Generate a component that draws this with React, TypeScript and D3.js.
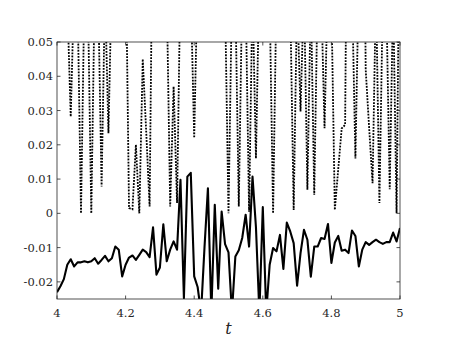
import React, { useEffect, useRef } from "react";
import * as d3 from "d3";

// sample grid, t = 4 ... 5 in steps of 0.01
const tGrid = d3.range(0, 101).map((i) => +(4 + i * 0.01).toFixed(2));

// solid series
const solidVals = [
  -0.023, -0.0213, -0.0192, -0.015, -0.0134, -0.0155, -0.0143, -0.0143, -0.014, -0.0143,
  -0.014, -0.0131, -0.0147, -0.0136, -0.0124, -0.014, -0.0131, -0.0097, -0.0106, -0.0184,
  -0.015, -0.0129, -0.0123, -0.0136, -0.0121, -0.0106, -0.0113, -0.0128, -0.0041, -0.0179,
  -0.0158, -0.0032, -0.014, -0.0106, -0.0082, -0.0106, 0.0098, -0.0248, 0.0107, 0.0118,
  -0.0184, -0.0215, -0.029, -0.01, 0.0073, -0.029, 0.0025, -0.022, 0.0005, -0.009,
  -0.0114, -0.029, -0.0126, -0.0108, -0.0072, -0.0004, -0.0097, 0.0107, -0.004, -0.029,
  0.0018, -0.029, -0.015, -0.0101, -0.0111, -0.0063, -0.0162, -0.0027, -0.0053, -0.0087,
  -0.0211, -0.0116, -0.0048, -0.0077, -0.0185, -0.0097, -0.0097, -0.0072, -0.0075, -0.0031,
  -0.0145, -0.0085, -0.0066, -0.0109, -0.0106, -0.0116, -0.005, -0.0066, -0.0155, -0.0106,
  -0.0084, -0.0092, -0.0084, -0.0077, -0.0084, -0.0089, -0.0084, -0.0084, -0.0056, -0.0082,
  -0.0043,
];

// dotted series (mostly above the visible range, dips)
const dottedVals = [
  0.12, 0.15, 0.11, 0.062, 0.0282, 0.066, 0.062, 0.0, 0.065, 0.063,
  0.0, 0.066, 0.064, 0.0078, 0.065, 0.0234, 0.07, 0.14, 0.18, 0.13,
  0.08, 0.0015, 0.0012, 0.02, 0.0, 0.045, 0.024, 0.002, 0.1, 0.16,
  0.2, 0.15, 0.064, 0.002, 0.037, 0.003, 0.07, 0.17, 0.14, 0.065,
  0.022, 0.07, 0.19, 0.22, 0.18, 0.21, 0.16, 0.13, 0.11, 0.062,
  0.0, 0.064, 0.063, 0.002, 0.066, 0.064, 0.0005, 0.065, 0.016, 0.07,
  0.14, 0.12, 0.062, 0.0, 0.066, 0.15, 0.12, 0.11, 0.062, 0.001,
  0.064, 0.0297, 0.066, 0.0069, 0.064, 0.0054, 0.066, 0.065, 0.0248, 0.07,
  0.062, 0.001, 0.013, 0.0248, 0.0258, 0.15, 0.066, 0.016, 0.07, 0.15,
  0.042, 0.025, 0.0088, 0.066, 0.003, 0.064, 0.063, 0.007, 0.064, 0.0,
  0.1,
];

const xTicks = [4, 4.2, 4.4, 4.6, 4.8, 5];
const yTicks = [-0.02, -0.01, 0, 0.01, 0.02, 0.03, 0.04, 0.05];

const W = 457;
const H = 343;
const margin = { top: 42, right: 57, bottom: 44, left: 57 };
const FONT = "DejaVu Serif";

export default function App() {
  const svgRef = useRef<SVGSVGElement | null>(null);

  useEffect(() => {
    const svg = d3.select(svgRef.current);
    svg.selectAll("*").remove();

    const x = d3.scaleLinear().domain([4, 5]).range([margin.left, W - margin.right]);
    const y = d3.scaleLinear().domain([-0.025, 0.05]).range([H - margin.bottom, margin.top]);
    const [x0, x1] = x.range();
    const [y0, y1] = y.range();

    svg.append("rect").attr("width", W).attr("height", H).attr("fill", "#fff");

    svg
      .append("defs")
      .append("clipPath")
      .attr("id", "plot-clip")
      .append("rect")
      .attr("x", x0)
      .attr("y", y1)
      .attr("width", x1 - x0)
      .attr("height", y0 - y1);

    const line = d3
      .line<number>()
      .x((_d, i) => x(tGrid[i]))
      .y((d) => y(d));

    const plot = svg.append("g").attr("clip-path", "url(#plot-clip)");

    plot
      .append("path")
      .attr("d", line(dottedVals))
      .attr("fill", "none")
      .attr("stroke", "#000")
      .attr("stroke-width", 1.8)
      .attr("stroke-dasharray", "1.8 1.3");

    plot
      .append("path")
      .attr("d", line(solidVals))
      .attr("fill", "none")
      .attr("stroke", "#000")
      .attr("stroke-width", 2.1)
      .attr("stroke-linejoin", "round");

    // box + inward ticks on all sides
    const axisG = svg.append("g").attr("stroke", "#262626").attr("stroke-width", 0.8);
    axisG
      .append("rect")
      .attr("x", x0)
      .attr("y", y1)
      .attr("width", x1 - x0)
      .attr("height", y0 - y1)
      .attr("fill", "none");

    const tl = 3.5;
    xTicks.forEach((v) => {
      axisG.append("line").attr("x1", x(v)).attr("x2", x(v)).attr("y1", y0).attr("y2", y0 - tl);
      axisG.append("line").attr("x1", x(v)).attr("x2", x(v)).attr("y1", y1).attr("y2", y1 + tl);
    });
    yTicks.forEach((v) => {
      axisG.append("line").attr("x1", x0).attr("x2", x0 + tl).attr("y1", y(v)).attr("y2", y(v));
      axisG.append("line").attr("x1", x1).attr("x2", x1 - tl).attr("y1", y(v)).attr("y2", y(v));
    });

    const fmtX = (v: number) => (v === 4 || v === 5 ? String(v) : d3.format(".1f")(v));
    svg
      .append("g")
      .selectAll("text")
      .data(xTicks)
      .join("text")
      .attr("x", (d) => x(d))
      .attr("y", y0 + 18)
      .attr("text-anchor", "middle")
      .attr("font-family", FONT)
      .attr("font-size", 11.5)
      .attr("fill", "#262626")
      .text(fmtX);

    const fmtY = (v: number) => (v === 0 ? "0" : d3.format(".2f")(v).replace("−", "-"));
    svg
      .append("g")
      .selectAll("text")
      .data(yTicks)
      .join("text")
      .attr("x", x0 - 4)
      .attr("y", (d) => y(d) + 4)
      .attr("text-anchor", "end")
      .attr("font-family", FONT)
      .attr("font-size", 11.5)
      .attr("fill", "#262626")
      .text(fmtY);

    svg
      .append("text")
      .attr("x", (x0 + x1) / 2)
      .attr("y", y0 + 35)
      .attr("text-anchor", "middle")
      .attr("font-family", FONT)
      .attr("font-style", "italic")
      .attr("font-size", 16)
      .attr("fill", "#262626")
      .text("t");
  }, []);

  return (
    <div style={{ position: "absolute", left: 0, top: 0 }}>
      <svg ref={svgRef} width={W} height={H} style={{ display: "block" }} />
    </div>
  );
}
